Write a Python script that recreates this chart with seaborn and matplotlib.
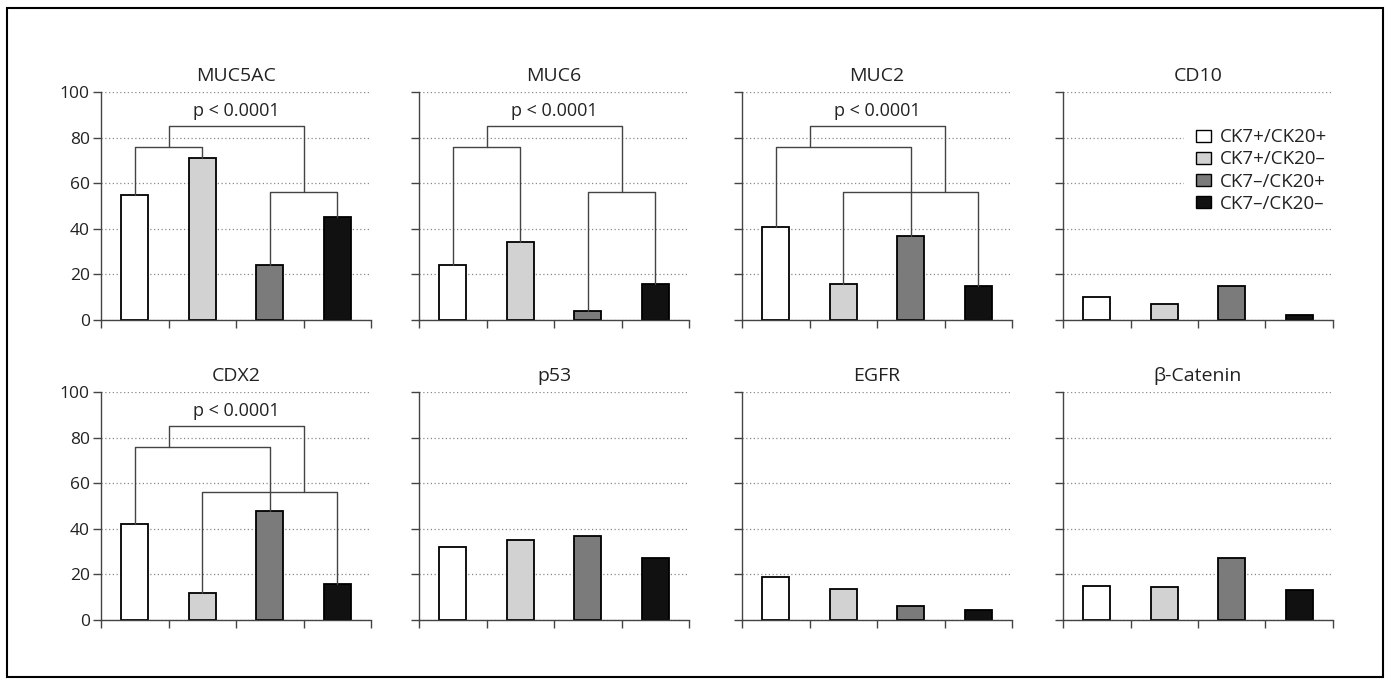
import matplotlib
matplotlib.use("Agg")
import matplotlib.pyplot as plt
import seaborn as sns
import pandas as pd
from matplotlib.patches import Rectangle, Patch

# ---------------- data ----------------
markers = ["MUC5AC", "MUC6", "MUC2", "CD10", "CDX2", "p53", "EGFR", "β-Catenin"]
groups = ["CK7+/CK20+", "CK7+/CK20–", "CK7–/CK20+", "CK7–/CK20–"]
muc5ac = [55, 71, 24, 45]
muc6 = [24, 34, 4, 16]
muc2 = [41, 16, 37, 15]
cd10 = [10, 7, 15, 2]
cdx2 = [42, 12, 48, 16]
p53 = [32, 35, 37, 27]
egfr = [19, 13.5, 6, 4.5]
bcat = [15, 14.5, 27, 13]
yticks = [0, 20, 40, 60, 80, 100]
p_label = "p < 0.0001"
# significance brackets per marker: (first bar, second bar, bracket height)
brackets = {
    "MUC5AC": [(0, 1, 76), (2, 3, 56)],
    "MUC6": [(0, 1, 76), (2, 3, 56)],
    "MUC2": [(0, 2, 76), (1, 3, 56)],
    "CDX2": [(0, 2, 76), (1, 3, 56)],
}
top_bracket_height = 85
p_text_height = 91.5

values = [muc5ac, muc6, muc2, cd10, cdx2, p53, egfr, bcat]
colors = ["#ffffff", "#d2d2d2", "#7b7b7b", "#111111"]

sns.set_theme(style="white")
plt.rcParams["font.family"] = ["Open Sans", "DejaVu Sans"]
TXT = "#222222"

W, H = 1388, 679
fig = plt.figure(figsize=(W / 100, H / 100), dpi=100)

lefts = [101, 419, 742, 1063]
tops = [92, 392]
aw, ah = 270, 228

line_c = "#444444"

for k, (name, vals) in enumerate(zip(markers, values)):
    r, c = divmod(k, 4)
    ax = fig.add_axes([lefts[c] / W, (H - tops[r] - ah) / H, aw / W, ah / H])
    df = pd.DataFrame({"group": groups, "value": vals})
    sns.barplot(data=df, x="group", y="value", hue="group", order=groups,
                hue_order=groups, palette=colors, width=0.4, edgecolor="black",
                linewidth=1.3, ax=ax, legend=False, saturation=1)
    ax.set_xlim(-0.5, 3.5)
    ax.set_ylim(0, 100)
    ax.set_xlabel("")
    ax.set_ylabel("")
    ax.set_xticks([-0.5, 0.5, 1.5, 2.5, 3.5])
    ax.set_xticklabels([])
    ax.set_yticks(yticks)
    if c == 0:
        ax.set_yticklabels([str(v) for v in yticks], fontsize=12.5, color=TXT)
    else:
        ax.set_yticklabels([])
    ax.tick_params(axis="y", direction="out", length=6, width=1, color=line_c, pad=2, left=True)
    ax.tick_params(axis="x", direction="out", length=6, width=1, color=line_c, bottom=True)
    for s in ["top", "right"]:
        ax.spines[s].set_visible(False)
    for s in ["left", "bottom"]:
        ax.spines[s].set_color(line_c)
        ax.spines[s].set_linewidth(1)
    ax.yaxis.grid(True, linestyle=(0, (1, 2)), color="#8a8a8a", linewidth=0.9)
    ax.xaxis.grid(False)
    ax.set_axisbelow(True)
    ax.set_title(name, fontsize=14, color=TXT, pad=8)

    if name in brackets:
        bl = brackets[name]
        for (i, j, h) in bl:
            ax.plot([i, i, j, j], [vals[i], h, h, vals[j]], color=line_c, lw=1, zorder=1)
        # top bracket joins the two pair brackets
        ax.plot([0.5, 0.5, 2.5, 2.5], [bl[0][2], top_bracket_height, top_bracket_height, bl[1][2]],
                color=line_c, lw=1, zorder=1)
        ax.text(1.5, p_text_height, p_label, ha="center", va="center", fontsize=13, color=TXT)

    if name == "CD10":
        handles = [Patch(facecolor=col, edgecolor="black", linewidth=1) for col in colors]
        leg = ax.legend(handles, groups, loc="upper right", bbox_to_anchor=(1.02, 0.89),
                        frameon=True, fancybox=False, facecolor="white", edgecolor="none",
                        framealpha=1, fontsize=13.5, handlelength=0.8, handleheight=0.6,
                        handletextpad=0.5, labelspacing=0.22, borderaxespad=0, borderpad=0.6,
                        labelcolor=TXT)

fig.patches.append(Rectangle((7 / W, 2 / H), 1376 / W, 669 / H, transform=fig.transFigure,
                             fill=False, edgecolor="black", linewidth=1.5))

fig.savefig("out.png", dpi=100)
